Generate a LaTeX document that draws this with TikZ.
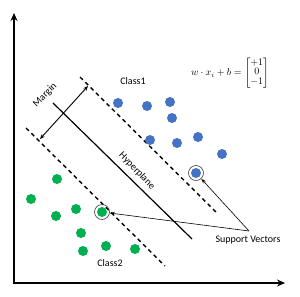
\documentclass[tikz,border=0pt]{standalone}
\usepackage{fontspec}
\setmainfont{Carlito}
\usepackage{amsmath}
\usetikzlibrary{arrows.meta}
\definecolor{classone}{RGB}{68,114,196}
\definecolor{classtwo}{RGB}{0,176,80}
\tikzset{
  bdot/.style={circle,inner sep=0pt,minimum size=10pt,fill=classone},
  gdot/.style={circle,inner sep=0pt,minimum size=10pt,fill=classtwo},
  ring/.style={circle,draw=black!75,line width=0.6pt,inner sep=0pt,minimum size=15pt},
  bound/.style={line width=1.4pt,dash pattern=on 4pt off 3.5pt},
  lbl/.style={font=\fontsize{10}{12}\selectfont,inner sep=1pt}
}
\begin{document}
\begin{tikzpicture}[x=1pt,y=-1pt]
  \useasboundingbox (0,0) rectangle (300,297);
  \coordinate (top) at (14,13);
  \coordinate (origin) at (14,283);
  \coordinate (right) at (285,283);
  \draw[line width=2pt,{Stealth[length=8pt,width=7pt]}-{Stealth[length=8pt,width=7pt]}] (top) -- (origin) -- (right);

  \coordinate (u1) at (80,77);
  \coordinate (u2) at (218,214);
  \coordinate (l1) at (26,128);
  \coordinate (l2) at (165,266);
  \coordinate (h1) at (53,103);
  \coordinate (h2) at (192,239);
  \draw[bound] (u1) -- (u2);
  \draw[bound] (l1) -- (l2);
  \draw[line width=1.2pt] (h1) -- (h2);

  \coordinate (m1) at (40,139);
  \coordinate (m2) at (88,86);
  \draw[line width=0.9pt,{Stealth[length=5pt,width=4pt]}-{Stealth[length=5pt,width=4pt]}] (m1) -- (m2);
  \node[lbl,rotate=45] (margin) at (45,95) {Margin};
  \node[lbl,rotate=-46] (hyper) at (137,171) {Hyperplane};

  \foreach \x/\y [count=\i] in {118/103,147/106,170/102,172/118,150/140,177/143,198/137,222/154,196/173}
  \node[bdot] (b\i) at (\x,\y) {};
  \foreach \x/\y [count=\i] in {57/179,31/199,56/216,76/209,102/212,81/233,83/251,106/246,135/249}
  \node[gdot] (g\i) at (\x,\y) {};

  \node[ring] (sv1) at (b9) {};
  \node[ring] (sv2) at (g5) {};

  \node[lbl] (class1) at (133,81) {Class1};
  \node[lbl] (class2) at (110,263) {Class2};
  \node[lbl] (sv) at (248,240) {Support Vectors};
  \coordinate (svtip) at (249,231);
  \draw[line width=0.6pt,-{Stealth[length=5pt,width=3.5pt,open]}] (svtip) -- (sv1);
  \draw[line width=0.6pt,-{Stealth[length=5pt,width=3.5pt,open]}] (svtip) -- (sv2);

  \node (eq) at (230,73) {\renewcommand\arraystretch{0.8}$w\cdot x_i+b=\begin{bmatrix}+1\\0\\-1\end{bmatrix}$};
\end{tikzpicture}
\end{document}
